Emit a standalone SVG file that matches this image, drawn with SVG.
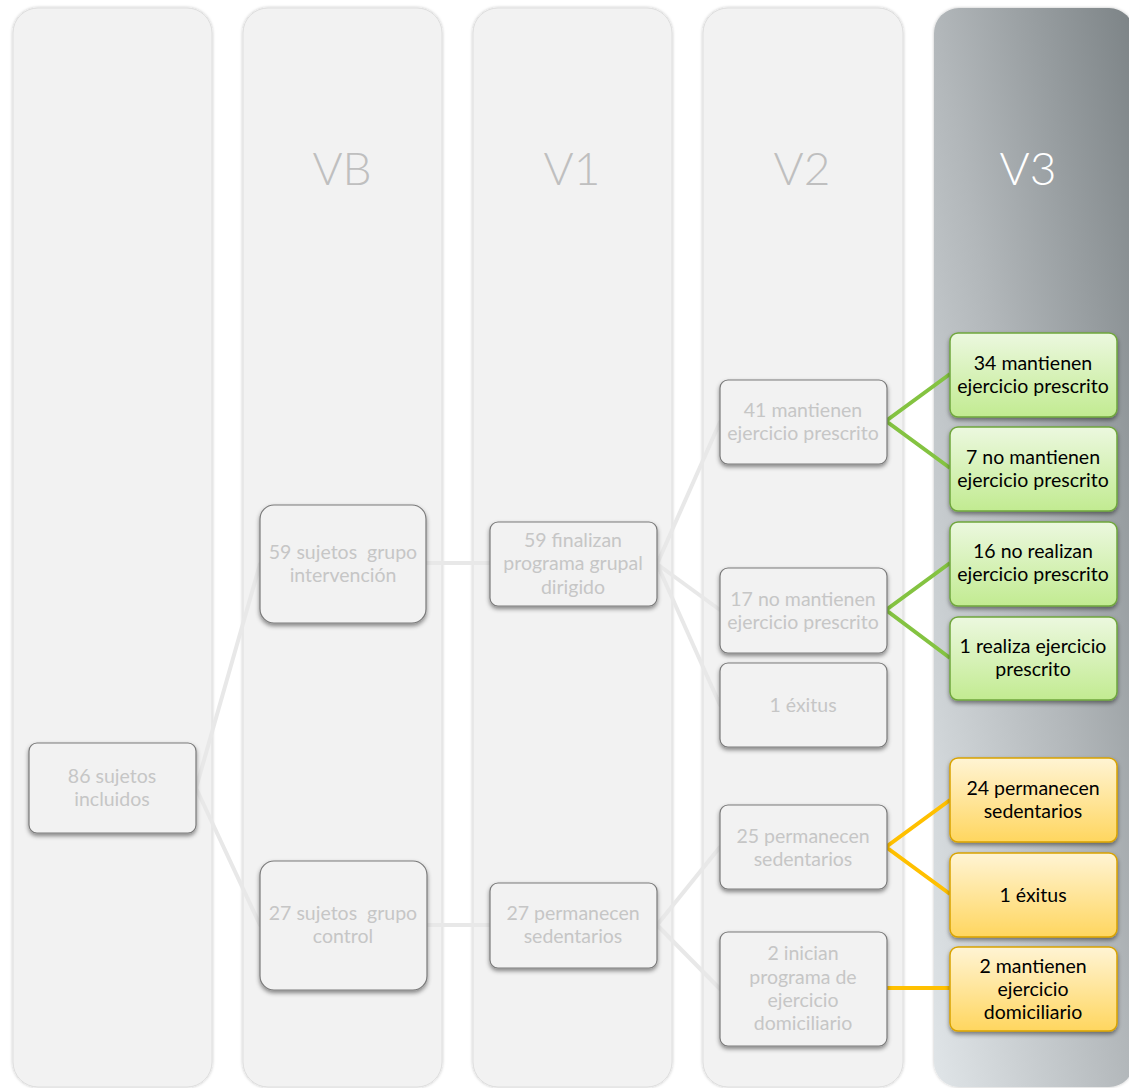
<svg xmlns="http://www.w3.org/2000/svg" width="1129" height="1088" viewBox="0 0 1129 1088">
<defs>
<linearGradient id="gV3" x1="0" y1="1" x2="1" y2="0">
<stop offset="0" stop-color="#e0e5e8"/>
<stop offset="0.5" stop-color="#b2b7ba"/>
<stop offset="1" stop-color="#7c8386"/>
</linearGradient>
<linearGradient id="gGreen" x1="0" y1="0" x2="0" y2="1">
<stop offset="0" stop-color="#ecf8df"/>
<stop offset="1" stop-color="#c2eb91"/>
</linearGradient>
<linearGradient id="gYellow" x1="0" y1="0" x2="0" y2="1">
<stop offset="0" stop-color="#fff4d4"/>
<stop offset="1" stop-color="#ffd65f"/>
</linearGradient>
<filter id="colShadow" x="-5%" y="-2%" width="110%" height="104%">
<feDropShadow dx="0" dy="0" stdDeviation="1.5" flood-color="#000" flood-opacity="0.25"/>
</filter>
<filter id="nodeShadow" x="-10%" y="-10%" width="120%" height="130%">
<feDropShadow dx="0" dy="2.5" stdDeviation="2" flood-color="#000" flood-opacity="0.45"/>
</filter>
</defs>
<style>
.col{fill:#f2f2f2;stroke:#dedede;stroke-width:1;filter:url(#colShadow)}
.hdr{font-family:Lato,"Liberation Sans",sans-serif;font-weight:300;font-size:46px;fill:#bfbfbf;text-anchor:middle}
.gn{fill:#f2f2f2;stroke:#7a7a7a;stroke-width:1.2;filter:url(#nodeShadow)}
.grn{fill:url(#gGreen);stroke:#6fa63c;stroke-width:1.5;filter:url(#nodeShadow)}
.yel{fill:url(#gYellow);stroke:#d9a300;stroke-width:1.5;filter:url(#nodeShadow)}
.tg{font-family:Lato,"Liberation Sans",sans-serif;font-size:19.5px;fill:#c6c6c6;text-anchor:middle;white-space:pre}
.tb{font-family:Lato,"Liberation Sans",sans-serif;font-size:19.5px;fill:#000;text-anchor:middle}
.cg{stroke:#e8e8e8;stroke-width:4;fill:none;stroke-linecap:round}
.cgr{stroke:#84c341;stroke-width:4;fill:none}
.cy{stroke:#ffc000;stroke-width:4;fill:none}
</style>

<g id="columns">
<rect class="col" x="13" y="8" width="199" height="1079" rx="25"/>
<rect class="col" x="243" y="8" width="199" height="1079" rx="25"/>
<rect class="col" x="473" y="8" width="199" height="1079" rx="25"/>
<rect class="col" x="703" y="8" width="200" height="1079" rx="25"/>
<rect x="934" y="8" width="200" height="1079" rx="25" fill="url(#gV3)" filter="url(#colShadow)"/>
<text class="hdr" x="342" y="185">VB</text>
<text class="hdr" x="572" y="185">V1</text>
<text class="hdr" x="802" y="185">V2</text>
<text class="hdr" x="1028" y="185" style="fill:#ffffff">V3</text>
</g>

<g id="connectors">
<path class="cg" d="M196 788 L260 564 M196 788 L260 925"/>
<path class="cg" d="M426 563 L490 563"/>
<path class="cg" d="M657 564 L720 422 M657 564 L720 610 M657 564 L720 705"/>
<path class="cg" d="M427 925 L490 925"/>
<path class="cg" d="M657 925 L720 847 M657 925 L720 989"/>
<path class="cgr" d="M950 374 L886 421 L950 468"/>
<path class="cgr" d="M950 563 L886 610 L950 658"/>
<path class="cy" d="M950 800 L886 847 L950 894"/>
<path class="cy" d="M886 988 L950 988"/>
</g>

<g id="n86">
<rect class="gn" x="29" y="743" width="167" height="90" rx="8"/>
<text class="tg" x="112" y="783">86 sujetos</text>
<text class="tg" x="112" y="806">incluidos</text>
</g>
<g id="n59sujetos">
<rect class="gn" x="260" y="505" width="166" height="118" rx="14"/>
<text class="tg" x="343" y="559">59 sujetos  grupo</text>
<text class="tg" x="343" y="582">intervención</text>
</g>
<g id="n27sujetos">
<rect class="gn" x="260" y="861" width="167" height="129" rx="14"/>
<text class="tg" x="343" y="920">27 sujetos  grupo</text>
<text class="tg" x="343" y="943">control</text>
</g>
<g id="n59finalizan">
<rect class="gn" x="490" y="522" width="167" height="84" rx="8"/>
<text class="tg" x="573" y="547">59 finalizan</text>
<text class="tg" x="573" y="570">programa grupal</text>
<text class="tg" x="573" y="594">dirigido</text>
</g>
<g id="n27permanecen">
<rect class="gn" x="490" y="883" width="167" height="85" rx="8"/>
<text class="tg" x="573" y="920">27 permanecen</text>
<text class="tg" x="573" y="943">sedentarios</text>
</g>
<g id="n41">
<rect class="gn" x="720" y="380" width="167" height="84" rx="8"/>
<text class="tg" x="803" y="417">41 mantienen</text>
<text class="tg" x="803" y="440">ejercicio prescrito</text>
</g>
<g id="n17">
<rect class="gn" x="720" y="568" width="167" height="85" rx="8"/>
<text class="tg" x="803" y="606">17 no mantienen</text>
<text class="tg" x="803" y="629">ejercicio prescrito</text>
</g>
<g id="n1exitusV2">
<rect class="gn" x="720" y="663" width="167" height="84" rx="8"/>
<text class="tg" x="803" y="712">1 éxitus</text>
</g>
<g id="n25">
<rect class="gn" x="720" y="805" width="167" height="84" rx="8"/>
<text class="tg" x="803" y="843">25 permanecen</text>
<text class="tg" x="803" y="866">sedentarios</text>
</g>
<g id="n2inician">
<rect class="gn" x="720" y="932" width="167" height="114" rx="8"/>
<text class="tg" x="803" y="960">2 inician</text>
<text class="tg" x="803" y="984">programa de</text>
<text class="tg" x="803" y="1007">ejercicio</text>
<text class="tg" x="803" y="1030">domiciliario</text>
</g>
<g id="n34">
<rect class="grn" x="950" y="333" width="167" height="84" rx="8"/>
<text class="tb" x="1033" y="370">34 mantienen</text>
<text class="tb" x="1033" y="393">ejercicio prescrito</text>
</g>
<g id="n7">
<rect class="grn" x="950" y="427" width="167" height="84" rx="8"/>
<text class="tb" x="1033" y="464">7 no mantienen</text>
<text class="tb" x="1033" y="487">ejercicio prescrito</text>
</g>
<g id="n16">
<rect class="grn" x="950" y="522" width="167" height="84" rx="8"/>
<text class="tb" x="1033" y="558">16 no realizan</text>
<text class="tb" x="1033" y="581">ejercicio prescrito</text>
</g>
<g id="n1realiza">
<rect class="grn" x="950" y="617" width="167" height="83" rx="8"/>
<text class="tb" x="1033" y="653">1 realiza ejercicio</text>
<text class="tb" x="1033" y="676">prescrito</text>
</g>
<g id="n24">
<rect class="yel" x="950" y="758" width="167" height="84" rx="8"/>
<text class="tb" x="1033" y="795">24 permanecen</text>
<text class="tb" x="1033" y="818">sedentarios</text>
</g>
<g id="n1exitusV3">
<rect class="yel" x="950" y="853" width="167" height="84" rx="8"/>
<text class="tb" x="1033" y="902">1 éxitus</text>
</g>
<g id="n2mantienen">
<rect class="yel" x="950" y="947" width="167" height="84" rx="8"/>
<text class="tb" x="1033" y="973">2 mantienen</text>
<text class="tb" x="1033" y="996">ejercicio</text>
<text class="tb" x="1033" y="1019">domiciliario</text>
</g>
</svg>
